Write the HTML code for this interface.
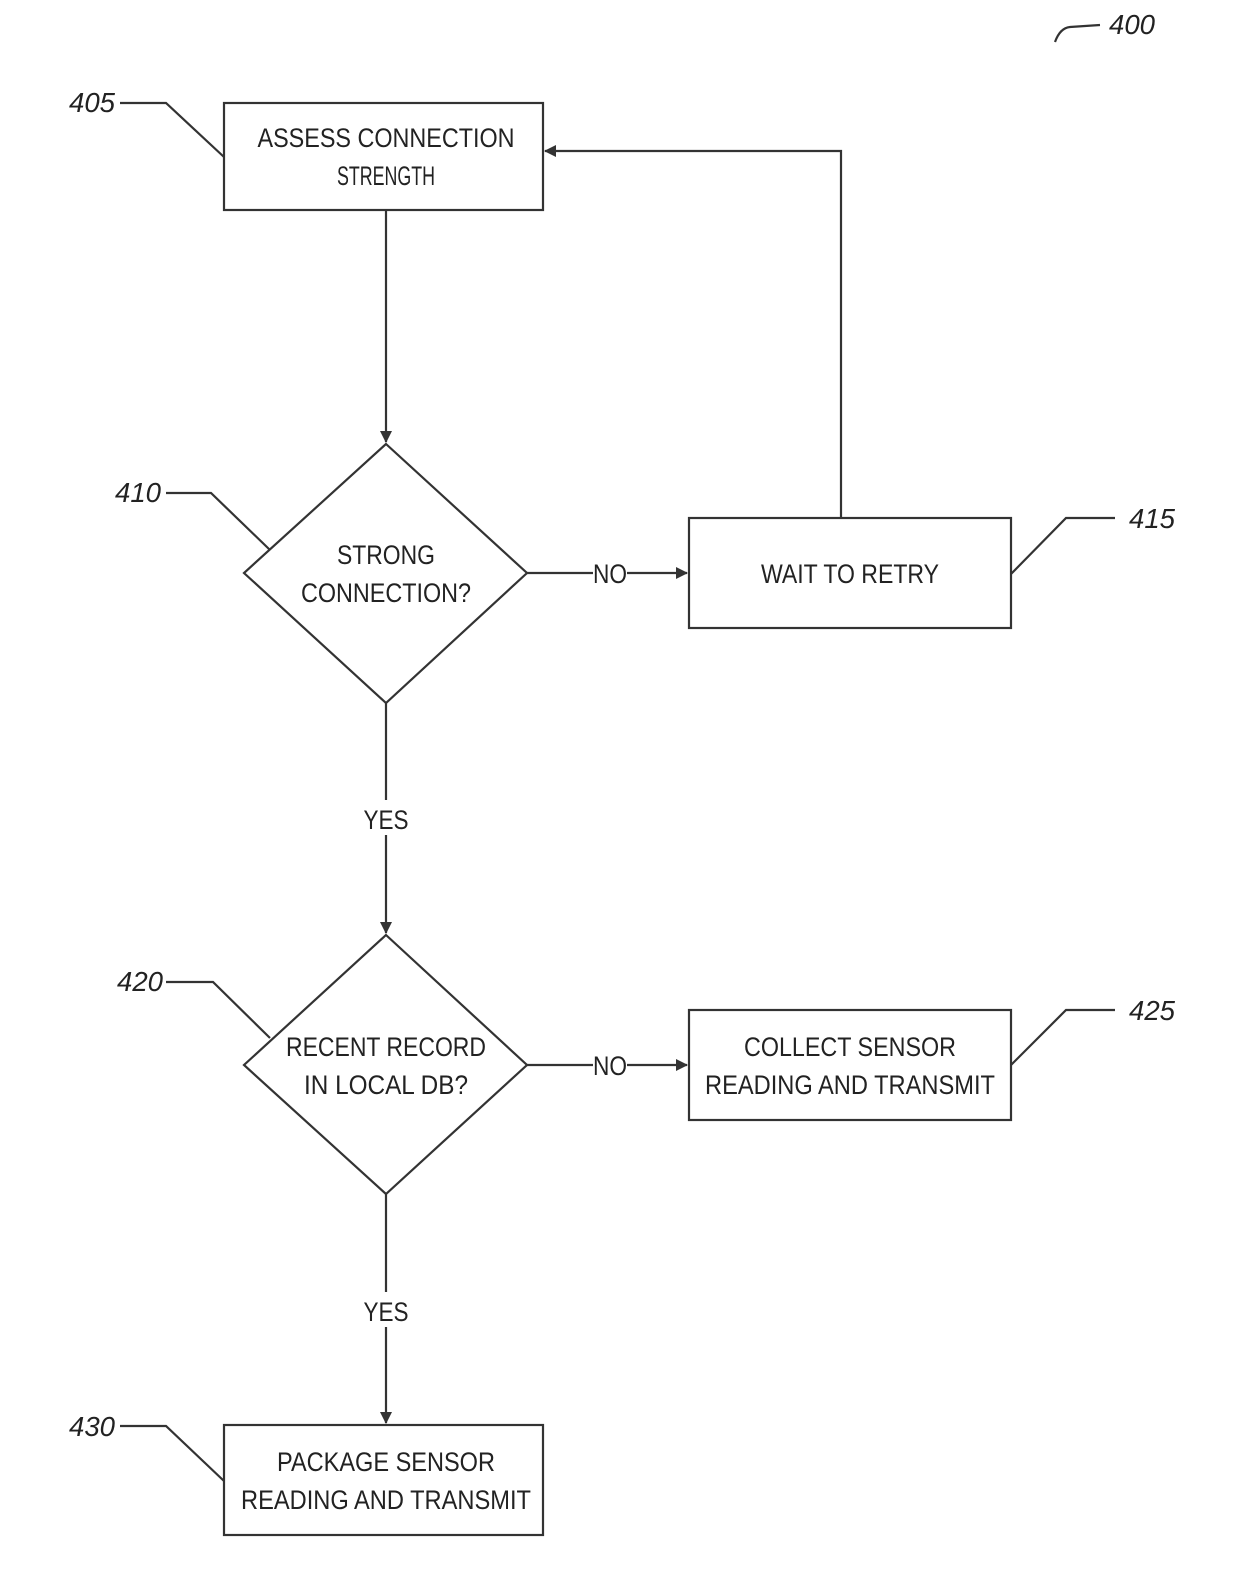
<!DOCTYPE html>
<html><head><meta charset="utf-8"><style>html,body{margin:0;padding:0;background:#fff}svg{display:block}</style></head><body>
<svg width="1240" height="1586" viewBox="0 0 1240 1586" xmlns="http://www.w3.org/2000/svg" font-family="Liberation Sans, sans-serif">
<defs><marker id="a" markerWidth="12" markerHeight="12" refX="11" refY="6" orient="auto" markerUnits="userSpaceOnUse"><path d="M0,0 L12,6 L0,12 Z" fill="#333"/></marker></defs>
<g fill="none" stroke="#333" stroke-width="2.2">
<rect x="224" y="103" width="319" height="107"/>
<polygon points="386,444 527,573 386,703 244,573"/>
<rect x="689" y="518" width="322" height="110"/>
<polygon points="386,935 527,1065 386,1194 244,1065"/>
<rect x="689" y="1010" width="322" height="110"/>
<rect x="224" y="1425" width="319" height="110"/>
<line x1="386" y1="210" x2="386" y2="442" marker-end="url(#a)"/>
<line x1="527" y1="573" x2="593" y2="573"/>
<line x1="627" y1="573" x2="687" y2="573" marker-end="url(#a)"/>
<polyline points="841,518 841,151 545,151" marker-end="url(#a)"/>
<line x1="386" y1="703" x2="386" y2="800"/>
<line x1="386" y1="835" x2="386" y2="933" marker-end="url(#a)"/>
<line x1="527" y1="1065" x2="593" y2="1065"/>
<line x1="627" y1="1065" x2="687" y2="1065" marker-end="url(#a)"/>
<line x1="386" y1="1194" x2="386" y2="1292"/>
<line x1="386" y1="1327" x2="386" y2="1423" marker-end="url(#a)"/>
<polyline points="120,103 166,103 224,157"/>
<polyline points="166,493 211,493 269,549"/>
<polyline points="1011,574 1066,518 1115,518"/>
<polyline points="166,982 213,982 270,1038"/>
<polyline points="1011,1065 1066,1010 1115,1010"/>
<polyline points="120,1426 166,1426 224,1481"/>
<path d="M1055,42 Q1060,28 1070,27 L1100,25"/>
</g>
<g fill="#222" font-size="27" text-anchor="middle">
<text x="386" y="147" textLength="257" lengthAdjust="spacingAndGlyphs">ASSESS CONNECTION</text>
<text x="386" y="185" textLength="98" lengthAdjust="spacingAndGlyphs">STRENGTH</text>
<text x="386" y="564" textLength="98" lengthAdjust="spacingAndGlyphs">STRONG</text>
<text x="386" y="602" textLength="170" lengthAdjust="spacingAndGlyphs">CONNECTION?</text>
<text x="850" y="583" textLength="178" lengthAdjust="spacingAndGlyphs">WAIT TO RETRY</text>
<text x="610" y="583" textLength="34" lengthAdjust="spacingAndGlyphs">NO</text>
<text x="386" y="829" textLength="45" lengthAdjust="spacingAndGlyphs">YES</text>
<text x="386" y="1056" textLength="200" lengthAdjust="spacingAndGlyphs">RECENT RECORD</text>
<text x="386" y="1094" textLength="164" lengthAdjust="spacingAndGlyphs">IN LOCAL DB?</text>
<text x="610" y="1075" textLength="34" lengthAdjust="spacingAndGlyphs">NO</text>
<text x="850" y="1056" textLength="212" lengthAdjust="spacingAndGlyphs">COLLECT SENSOR</text>
<text x="850" y="1094" textLength="290" lengthAdjust="spacingAndGlyphs">READING AND TRANSMIT</text>
<text x="386" y="1321" textLength="45" lengthAdjust="spacingAndGlyphs">YES</text>
<text x="386" y="1471" textLength="218" lengthAdjust="spacingAndGlyphs">PACKAGE SENSOR</text>
<text x="386" y="1509" textLength="290" lengthAdjust="spacingAndGlyphs">READING AND TRANSMIT</text>
</g>
<g fill="#222" font-size="28" font-style="italic" text-anchor="middle">
<text x="92" y="112" textLength="46" lengthAdjust="spacingAndGlyphs">405</text>
<text x="138" y="502" textLength="46" lengthAdjust="spacingAndGlyphs">410</text>
<text x="1152" y="528" textLength="46" lengthAdjust="spacingAndGlyphs">415</text>
<text x="140" y="991" textLength="46" lengthAdjust="spacingAndGlyphs">420</text>
<text x="1152" y="1020" textLength="46" lengthAdjust="spacingAndGlyphs">425</text>
<text x="92" y="1436" textLength="46" lengthAdjust="spacingAndGlyphs">430</text>
<text x1="0" x="1132" y="34" textLength="46" lengthAdjust="spacingAndGlyphs">400</text>
</g>
</svg>
</body></html>
